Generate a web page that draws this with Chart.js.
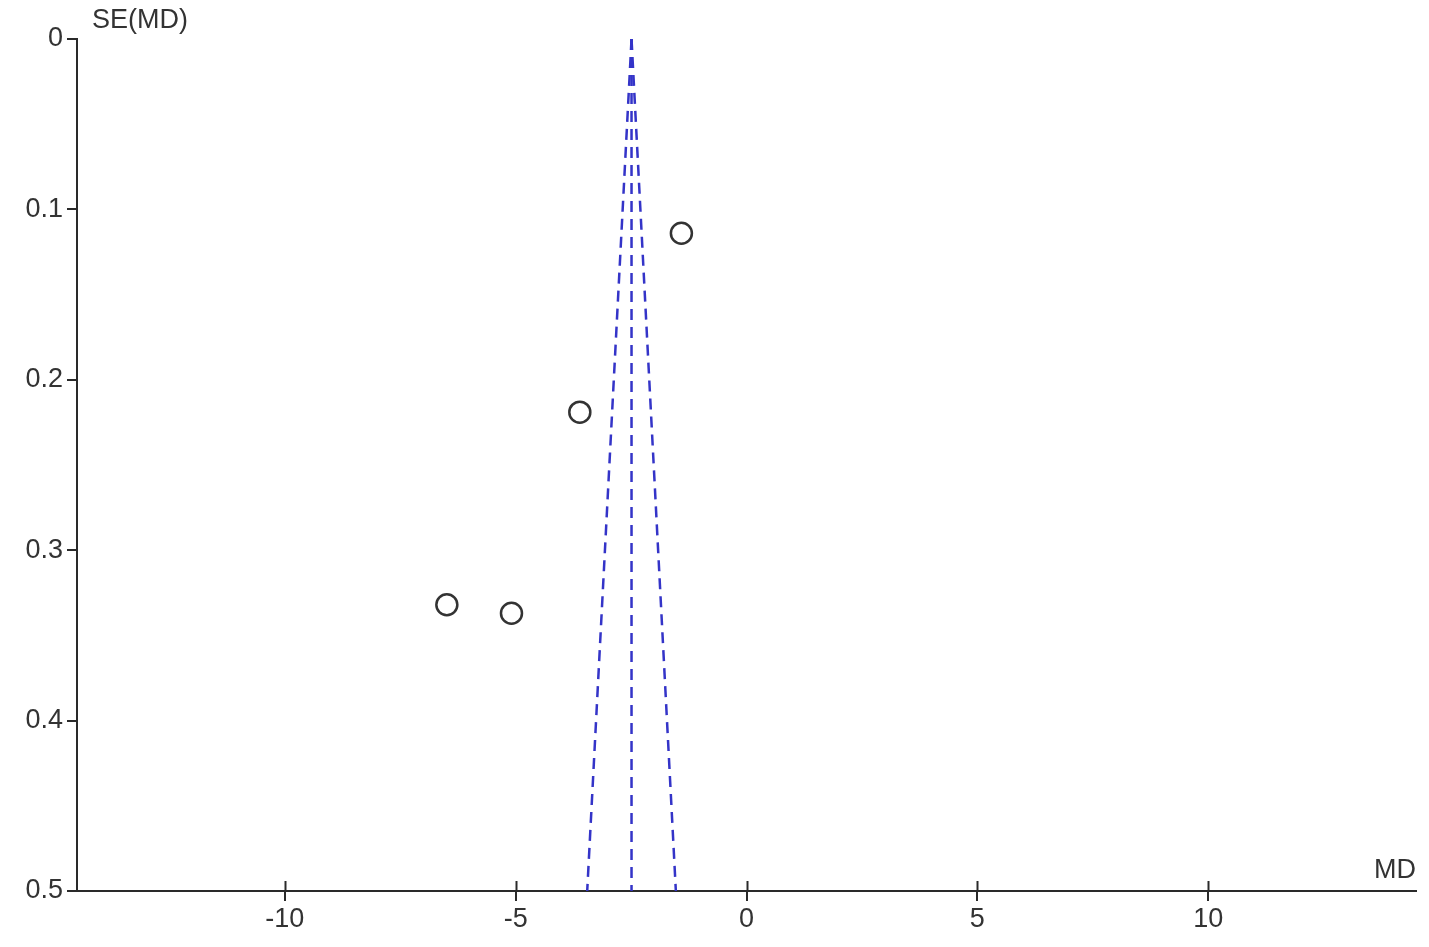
<!DOCTYPE html>
<html>
<head>
<meta charset="utf-8">
<script src="https://cdn.jsdelivr.net/npm/chart.js@4.4.1/dist/chart.umd.min.js"></script>
<style>
  html, body { margin: 0; padding: 0; background: #fff; }
  #wrap { width: 1429px; height: 947px; position: relative; }
</style>
</head>
<body>
<div id="wrap"><canvas id="funnel"></canvas></div>
<script>
// --- Data ---
const studyMD = [-1.41, -3.61, -6.49, -5.09];
const studySE = [0.114, 0.219, 0.332, 0.337];

const funnelSE = [0, 0.5];
const funnelCenter = [-2.49, -2.49];
const funnelLeft = [-2.49, -3.45];
const funnelRight = [-2.49, -1.53];

const xTicks = [-10, -5, 0, 5, 10];
const yTicks = [0, 0.1, 0.2, 0.3, 0.4, 0.5];

const axisColor = '#2a2a2a';
const textColor = '#333';
const fontFamily = '"Liberation Sans", Arial, sans-serif';
const fontSize = 27;

const toPoints = (xs, ys) => xs.map((x, i) => ({ x: x, y: ys[i] }));

const funnelLine = (xs) => ({
    data: toPoints(xs, funnelSE),
    showLine: true,
    borderColor: '#3434c8',
    borderWidth: 2.5,
    borderDash: [11, 7],
    pointRadius: 0,
    order: 2
});

// draws the upper half of the x ticks and the axis titles
const extras = {
    id: 'extras',
    afterDraw(chart) {
        const ctx = chart.ctx;
        const x = chart.scales.x;
        const area = chart.chartArea;
        ctx.save();
        ctx.strokeStyle = axisColor;
        ctx.lineWidth = 2;
        xTicks.forEach(v => {
            const px = Math.round(x.getPixelForValue(v)) + 0.5;
            ctx.beginPath();
            ctx.moveTo(px, area.bottom);
            ctx.lineTo(px, area.bottom - 10);
            ctx.stroke();
        });
        ctx.fillStyle = textColor;
        ctx.font = fontSize + 'px ' + fontFamily;
        ctx.textBaseline = 'middle';
        ctx.textAlign = 'left';
        ctx.fillText('SE(MD)', 92, 21);
        ctx.textAlign = 'right';
        ctx.fillText('MD', 1416, 871);
        ctx.restore();
    }
};

new Chart(document.getElementById('funnel'), {
    type: 'scatter',
    data: {
        datasets: [
            {
                data: toPoints(studyMD, studySE),
                pointStyle: 'circle',
                pointRadius: 10.5,
                pointBorderWidth: 2.5,
                borderColor: '#333',
                backgroundColor: 'rgba(255,255,255,0)',
                order: 1
            },
            funnelLine(funnelLeft),
            funnelLine(funnelCenter),
            funnelLine(funnelRight)
        ]
    },
    options: {
        responsive: true,
        maintainAspectRatio: false,
        animation: false,
        layout: { padding: { top: 39, right: 12, left: 0, bottom: 0 } },
        plugins: {
            legend: { display: false },
            tooltip: { enabled: false }
        },
        scales: {
            x: {
                type: 'linear',
                min: -14.5,
                max: 14.5,
                afterFit: s => { s.height = 56; },
                afterBuildTicks: s => { s.ticks = xTicks.map(v => ({ value: v })); },
                border: { display: true, color: axisColor, width: 2 },
                grid: { drawOnChartArea: false, drawTicks: true, tickLength: 10, color: axisColor, lineWidth: 2 },
                ticks: { color: textColor, font: { family: fontFamily, size: fontSize }, padding: 2, maxRotation: 0 }
            },
            y: {
                type: 'linear',
                reverse: true,
                min: 0,
                max: 0.5,
                afterFit: s => { s.width = 77; },
                afterBuildTicks: s => { s.ticks = yTicks.map(v => ({ value: v })); },
                border: { display: true, color: axisColor, width: 2 },
                grid: { drawOnChartArea: false, drawTicks: true, tickLength: 10, color: axisColor, lineWidth: 2 },
                ticks: { color: textColor, font: { family: fontFamily, size: fontSize }, padding: 4 }
            }
        }
    },
    plugins: [extras]
});
</script>
</body>
</html>
